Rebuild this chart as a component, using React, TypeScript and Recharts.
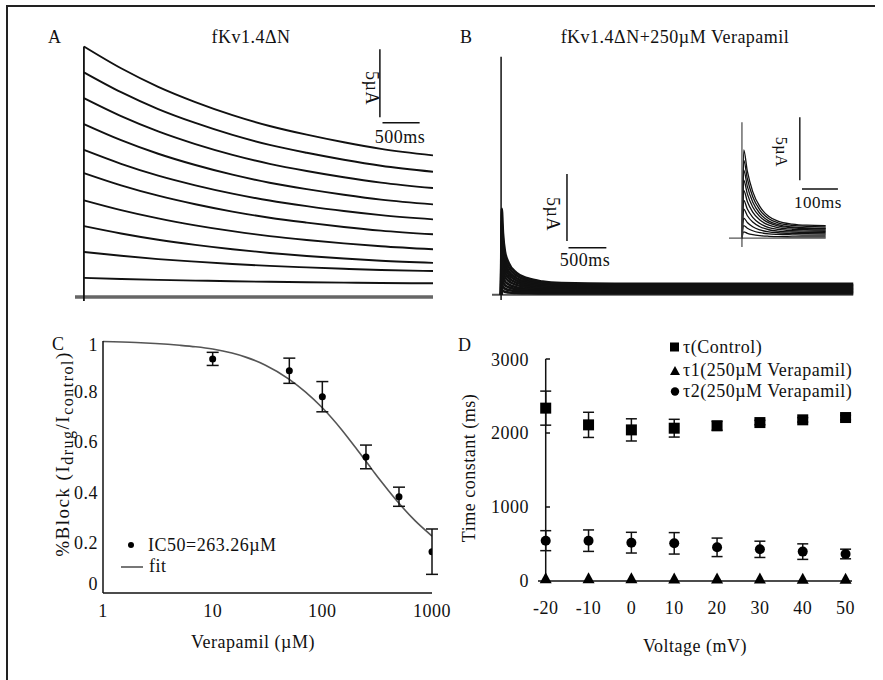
import React from 'react';
import { LineChart, Line, XAxis, YAxis, ReferenceLine, ComposedChart, Scatter, ErrorBar } from 'recharts';

const FONT = '"Liberation Serif", "Times New Roman", Times, serif';
const INK = '#111';

// A: fKv1.4ΔN control currents (µA), sampled along the pulse (ms)
const aTime = [0, 500, 1000, 1500, 2000, 2500, 3000, 3500, 4000, 4700];
const aTraces = [
  [18.4, 16.8, 15.44, 14.32, 13.36, 12.56, 11.92, 11.36, 10.88, 10.4],
  [16.5, 15.04, 13.8, 12.78, 11.9, 11.17, 10.59, 10.08, 9.64, 9.2],
  [14.6, 13.28, 12.16, 11.23, 10.44, 9.78, 9.25, 8.79, 8.4, 8.0],
  [12.7, 11.52, 10.52, 9.69, 8.98, 8.39, 7.92, 7.51, 7.15, 6.8],
  [10.8, 9.78, 8.91, 8.2, 7.59, 7.08, 6.67, 6.31, 6.01, 5.7],
  [9.1, 8.2, 7.44, 6.81, 6.27, 5.82, 5.46, 5.14, 4.87, 4.6],
  [7.1, 6.38, 5.77, 5.26, 4.83, 4.47, 4.18, 3.93, 3.72, 3.5],
  [5.2, 4.66, 4.2, 3.82, 3.5, 3.23, 3.01, 2.82, 2.66, 2.5],
  [3.3, 3.02, 2.78, 2.59, 2.42, 2.28, 2.17, 2.07, 1.98, 1.9],
  [1.4, 1.32, 1.25, 1.2, 1.15, 1.11, 1.08, 1.05, 1.02, 1.0],
];
const aBaseTime = [-120, 4700];
const aBaseVals = [0, 0];

// B: same currents with 250µM verapamil
const bTime = [0, 8, 25, 50, 100, 200, 350, 550, 800, 1500, 4650];
const bTraces = [
  [0, 6.4, 4.58, 3.24, 2.37, 1.64, 1.22, 0.97, 0.86, 0.8, 0.8],
  [0, 5.5, 3.95, 2.81, 2.06, 1.44, 1.08, 0.86, 0.77, 0.72, 0.72],
  [0, 4.7, 3.37, 2.39, 1.76, 1.24, 0.94, 0.76, 0.68, 0.64, 0.64],
  [0, 3.9, 2.83, 2.03, 1.51, 1.07, 0.82, 0.66, 0.59, 0.56, 0.56],
  [0, 3.2, 2.33, 1.69, 1.26, 0.9, 0.69, 0.56, 0.51, 0.48, 0.48],
  [0, 2.5, 1.84, 1.35, 1.02, 0.73, 0.57, 0.47, 0.42, 0.4, 0.4],
  [0, 1.9, 1.39, 1.01, 0.77, 0.56, 0.44, 0.37, 0.34, 0.32, 0.32],
  [0, 1.3, 0.97, 0.71, 0.55, 0.41, 0.32, 0.27, 0.25, 0.24, 0.24],
  [0, 0.8, 0.6, 0.45, 0.34, 0.26, 0.21, 0.18, 0.17, 0.16, 0.16],
  [0, 0.4, 0.29, 0.21, 0.16, 0.125, 0.1, 0.09, 0.08, 0.08, 0.08],
];
const bBaseTime = [-120, 4650];
const bBaseVals = [0, 0];

// B inset: first 233 ms
const iTime = [0, 5, 15, 30, 50, 75, 100, 140, 180, 233];
const iTraces = [
  [0, 7.0, 5.32, 3.7, 2.5, 1.72, 1.36, 1.12, 1.03, 1.0],
  [0, 6.2, 4.72, 3.29, 2.23, 1.54, 1.22, 1.01, 0.93, 0.9],
  [0, 5.4, 4.11, 2.87, 1.95, 1.35, 1.08, 0.89, 0.82, 0.8],
  [0, 4.6, 3.52, 2.48, 1.71, 1.21, 0.98, 0.83, 0.77, 0.75],
  [0, 3.8, 2.92, 2.07, 1.44, 1.03, 0.84, 0.71, 0.67, 0.65],
  [0, 3.0, 2.31, 1.65, 1.16, 0.84, 0.7, 0.6, 0.56, 0.55],
  [0, 2.3, 1.78, 1.28, 0.91, 0.67, 0.56, 0.49, 0.46, 0.45],
  [0, 1.6, 1.25, 0.91, 0.66, 0.5, 0.43, 0.38, 0.36, 0.35],
  [0, 1.0, 0.79, 0.59, 0.44, 0.34, 0.3, 0.27, 0.25, 0.25],
  [0, 0.5, 0.39, 0.28, 0.2, 0.15, 0.12, 0.11, 0.1, 0.1],
];
const iBaseTime = [-36, 233];
const iBaseVals = [0, 0];

// C: dose response
const cConc = [10, 50, 100, 250, 500, 1000];
const cBlock = [0.929, 0.882, 0.779, 0.54, 0.382, 0.164];
const cErr = [0.026, 0.05, 0.06, 0.047, 0.038, 0.09];
const fitConc = [1, 2, 3, 5, 7, 10, 15, 20, 30, 50, 70, 100, 150, 200, 263, 300, 400, 500, 700, 1000];
const fitBlock = [0.998, 0.994, 0.99, 0.983, 0.977, 0.968, 0.952, 0.936, 0.905, 0.848, 0.798, 0.735, 0.648, 0.578, 0.51, 0.476, 0.407, 0.356, 0.287, 0.226];

// D: time constants vs voltage
const dVolt = [-20, -10, 0, 10, 20, 30, 40, 50];
const dCtrl = [2336, 2110, 2042, 2065, 2097, 2141, 2178, 2209];
const dCtrlErr = [230, 170, 150, 120, 60, 30, 30, 30];
const dTau1 = [38, 37, 36, 35, 34, 33, 32, 31];
const dTau2 = [545, 545, 518, 509, 455, 428, 397, 365];
const dTau2Err = [135, 145, 140, 145, 125, 110, 105, 65];

const pts = (time: number[], vals: number[]) => vals.map((v, i) => ({ t: time[i], v }));
const xy = (xs: number[], ys: number[], es?: number[]) =>
  xs.map((x, i) => ({ x, y: ys[i], e: es ? es[i] : 0 }));

const cData = xy(cConc, cBlock, cErr);
const fitData = xy(fitConc, fitBlock);
const ctrlData = xy(dVolt, dCtrl, dCtrlErr);
const tau1Data = xy(dVolt, dTau1);
const tau2Data = xy(dVolt, dTau2, dTau2Err);

const tickStyle = { fontSize: 18, fill: INK, fontFamily: FONT, letterSpacing: 0.5 };

const BlockTick = (p: any) => {
  const v = p.payload.value;
  const shift = v === 0 ? -9 : v === 1 ? 4 : 0;
  return (
    <text x={p.x} y={p.y + shift} dy="0.35em" textAnchor="end" style={tickStyle}>
      {v}
    </text>
  );
};

const Square = (p: any) => <rect x={p.cx - 5.5} y={p.cy - 5.5} width={11} height={11} fill="#000" />;
const Tri = (p: any) => (
  <polygon points={`${p.cx},${p.cy - 6} ${p.cx - 6},${p.cy + 5} ${p.cx + 6},${p.cy + 5}`} fill="#000" />
);
const Dot = (r: number) => (p: any) => <circle cx={p.cx} cy={p.cy} r={r} fill="#000" />;

const traceLine = (data: { t: number; v: number }[], key: string, width = 1.5) => (
  <Line
    key={key}
    data={data}
    dataKey="v"
    type="monotone"
    stroke={INK}
    strokeWidth={width}
    dot={false}
    activeDot={false}
    isAnimationActive={false}
  />
);

const M5 = { top: 5, right: 5, bottom: 5, left: 5 };

export default function App() {
  return (
    <div style={{ position: 'absolute', left: 0, top: 0, width: 883, height: 680, background: '#fff', overflow: 'hidden' }}>
      <div style={{ position: 'absolute', left: 6, top: 5, width: 867, height: 690, borderTop: '2px solid #222', borderLeft: '2px solid #222' }} />

      {/* A */}
      <div style={{ position: 'absolute', left: 70, top: 34 }}>
        <LineChart width={368} height={272} margin={M5}>
          <XAxis type="number" dataKey="t" domain={[-120, 4700]} hide allowDataOverflow />
          <YAxis type="number" domain={[-0.3, 18.95]} hide allowDataOverflow />
          <Line data={pts(aBaseTime, aBaseVals)} dataKey="v" type="linear" stroke="#666" strokeWidth={3.5} dot={false} activeDot={false} isAnimationActive={false} />
          {aTraces.map((vals, i) => traceLine(pts(aTime, vals), 'a' + i, 1.9))}
          <ReferenceLine segment={[{ x: 0, y: -0.3 }, { x: 0, y: 18.4 }]} stroke={INK} strokeWidth={1.8} ifOverflow="visible" />
          <ReferenceLine segment={[{ x: 3985, y: 13.2 }, { x: 3985, y: 18.2 }]} stroke={INK} strokeWidth={1.5} ifOverflow="visible" />
          <ReferenceLine segment={[{ x: 4020, y: 12.8 }, { x: 4520, y: 12.8 }]} stroke={INK} strokeWidth={1.5} ifOverflow="visible" />
        </LineChart>
      </div>

      {/* B */}
      <div style={{ position: 'absolute', left: 487, top: 49 }}>
        <LineChart width={372} height={256} margin={M5}>
          <XAxis type="number" dataKey="t" domain={[-120, 4660]} hide allowDataOverflow />
          <YAxis type="number" domain={[-0.4, 17.96]} hide allowDataOverflow />
          <Line data={pts(bBaseTime, bBaseVals)} dataKey="v" type="linear" stroke="#555" strokeWidth={2} dot={false} activeDot={false} isAnimationActive={false} />
          {bTraces.map((vals, i) => traceLine(pts(bTime, vals), 'b' + i, 2.6))}
          <ReferenceLine segment={[{ x: 0, y: -0.4 }, { x: 0, y: 17.76 }]} stroke={INK} strokeWidth={1.5} ifOverflow="visible" />
          <ReferenceLine segment={[{ x: 870, y: 4.0 }, { x: 870, y: 9.0 }]} stroke={INK} strokeWidth={1.5} ifOverflow="visible" />
          <ReferenceLine segment={[{ x: 890, y: 3.5 }, { x: 1390, y: 3.5 }]} stroke={INK} strokeWidth={1.5} ifOverflow="visible" />
        </LineChart>
      </div>

      {/* B inset */}
      <div style={{ position: 'absolute', left: 724, top: 110 }}>
        <LineChart width={120} height={142} margin={M5}>
          <XAxis type="number" dataKey="t" domain={[-36, 270]} hide allowDataOverflow />
          <YAxis type="number" domain={[-0.7, 9.78]} hide allowDataOverflow />
          <Line data={pts(iBaseTime, iBaseVals)} dataKey="v" type="linear" stroke="#555" strokeWidth={1.3} dot={false} activeDot={false} isAnimationActive={false} />
          {iTraces.map((vals, i) => traceLine(pts(iTime, vals), 'i' + i, 1.3))}
          <ReferenceLine segment={[{ x: 0, y: -0.7 }, { x: 0, y: 9.2 }]} stroke="#555" strokeWidth={1.3} ifOverflow="visible" />
          <ReferenceLine segment={[{ x: 161, y: 4.6 }, { x: 161, y: 9.6 }]} stroke={INK} strokeWidth={1.4} ifOverflow="visible" />
          <ReferenceLine segment={[{ x: 167, y: 3.9 }, { x: 267, y: 3.9 }]} stroke={INK} strokeWidth={1.4} ifOverflow="visible" />
        </LineChart>
      </div>

      {/* C */}
      <div style={{ position: 'absolute', left: 40, top: 331 }}>
        <ComposedChart width={412} height={302} margin={{ top: 10, right: 20, bottom: 0, left: 0 }}>
          <XAxis
            type="number"
            dataKey="x"
            scale="log"
            domain={[1, 1000]}
            ticks={[1, 10, 100, 1000]}
            height={40}
            axisLine={{ stroke: INK, strokeWidth: 1.5 }}
            tickLine={false}
            tickSize={0}
            tickMargin={11}
            tick={tickStyle}
            allowDataOverflow
          />
          <YAxis
            type="number"
            dataKey="y"
            domain={[0, 1]}
            ticks={[0, 0.2, 0.4, 0.6, 0.8, 1]}
            width={63}
            axisLine={{ stroke: INK, strokeWidth: 1.5 }}
            tickLine={false}
            tickSize={0}
            tickMargin={5}
            tick={<BlockTick />}
          />
          <Line data={fitData} dataKey="y" type="monotone" stroke="#555" strokeWidth={1.6} dot={false} activeDot={false} isAnimationActive={false} />
          <Scatter data={cData} dataKey="y" shape={Dot(3.5)} isAnimationActive={false}>
            <ErrorBar dataKey="e" direction="y" width={6} stroke={INK} strokeWidth={1.5} />
          </Scatter>
        </ComposedChart>
      </div>

      {/* D */}
      <div style={{ position: 'absolute', left: 470, top: 349 }}>
        <ComposedChart width={402} height={272} margin={{ top: 10, right: 20, bottom: 0, left: 0 }}>
          <XAxis
            type="number"
            dataKey="x"
            domain={[-21.8, 51.5]}
            ticks={dVolt}
            height={40}
            axisLine={{ stroke: INK, strokeWidth: 1.5 }}
            tickLine={false}
            tickSize={0}
            tickMargin={20}
            tick={tickStyle}
          />
          <YAxis
            type="number"
            dataKey="y"
            domain={[0, 3000]}
            ticks={[0, 1000, 2000, 3000]}
            width={68}
            axisLine={false}
            tickLine={false}
            tickSize={0}
            tickMargin={9}
            tick={tickStyle}
          />
          <ReferenceLine segment={[{ x: -20, y: 0 }, { x: -20, y: 3000 }]} stroke={INK} strokeWidth={1.5} ifOverflow="visible" />
          {[1000, 2000, 3000].map((v) => (
            <ReferenceLine key={v} segment={[{ x: -20, y: v }, { x: -19, y: v }]} stroke={INK} strokeWidth={1.5} ifOverflow="visible" />
          ))}
          <Scatter data={ctrlData} dataKey="y" shape={Square} isAnimationActive={false}>
            <ErrorBar dataKey="e" direction="y" width={5.5} stroke={INK} strokeWidth={1.5} />
          </Scatter>
          <Scatter data={tau2Data} dataKey="y" shape={Dot(5)} isAnimationActive={false}>
            <ErrorBar dataKey="e" direction="y" width={5.5} stroke={INK} strokeWidth={1.5} />
          </Scatter>
          <Scatter data={tau1Data} dataKey="y" shape={Tri} isAnimationActive={false} />
        </ComposedChart>
      </div>

      {/* text and legend overlay */}
      <svg width={883} height={680} style={{ position: 'absolute', left: 0, top: 0, pointerEvents: 'none' }}>
        <g style={{ fontFamily: FONT, fontSize: 18, fill: INK, letterSpacing: 0.5 }}>
          <text x={48} y={43}>A</text>
          <text x={251} y={43} textAnchor="middle">fKv1.4ΔN</text>
          <text x={460} y={43}>B</text>
          <text x={675} y={43} textAnchor="middle">fKv1.4ΔN+250µM Verapamil</text>

          <text transform="translate(372,88) rotate(90)" textAnchor="middle" dy="0.35em">5µA</text>
          <text x={400} y={143} textAnchor="middle">500ms</text>
          <text transform="translate(553,214) rotate(90)" textAnchor="middle" dy="0.35em">5µA</text>
          <text x={585} y={266} textAnchor="middle">500ms</text>
          <text transform="translate(782,152) rotate(90)" textAnchor="middle" dy="0.35em" style={{ fontSize: 16 }}>5µA</text>
          <text x={818} y={208} textAnchor="middle" style={{ fontSize: 17 }}>100ms</text>

          <text x={52} y={350}>C</text>
          <text transform="translate(62,454) rotate(-90)" textAnchor="middle" dy="0.35em" style={{ fontSize: 19, letterSpacing: 1.5 }}>
            %Block (I<tspan dy={4} style={{ fontSize: 16 }}>drug</tspan>
            <tspan dy={-4}>/I</tspan>
            <tspan dy={4} style={{ fontSize: 16 }}>control</tspan>
            <tspan dy={-4}>)</tspan>
          </text>
          <circle cx={131} cy={545} r={3} fill="#000" />
          <text x={148} y={551}>IC50=263.26µM</text>
          <line x1={121} y1={567} x2={143} y2={567} stroke="#555" strokeWidth={1.6} />
          <text x={149} y={572}>fit</text>
          <text x={253} y={648} textAnchor="middle">Verapamil (µM)</text>

          <text x={458} y={351}>D</text>
          <rect x={670} y={342.5} width={9} height={9} fill="#000" />
          <text x={683} y={353}>τ(Control)</text>
          <polygon points="675,366 670,375 680,375" fill="#000" />
          <text x={683} y={376}>τ1(250µM Verapamil)</text>
          <circle cx={675} cy={391.5} r={4.2} fill="#000" />
          <text x={683} y={397}>τ2(250µM Verapamil)</text>
          <text transform="translate(469,468) rotate(-90)" textAnchor="middle" dy="0.35em">Time constant (ms)</text>
          <text x={695} y={652} textAnchor="middle">Voltage (mV)</text>
        </g>
      </svg>
    </div>
  );
}
